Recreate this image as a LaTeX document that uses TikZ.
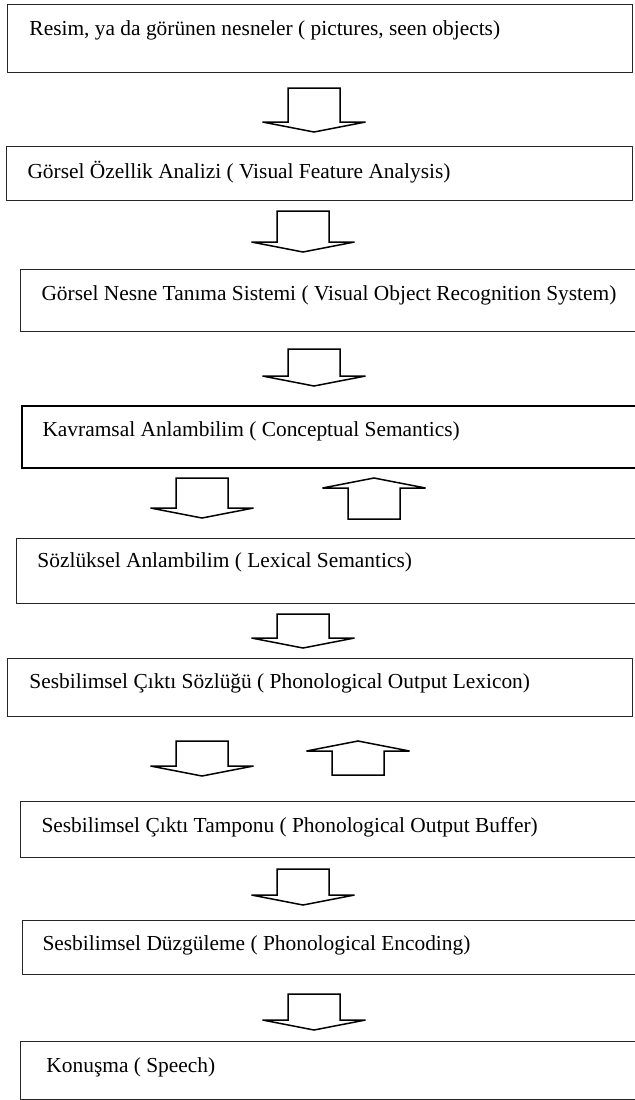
\documentclass[tikz,border=0pt]{standalone}
\usepackage{fontspec}
\setmainfont{Liberation Serif}
\usetikzlibrary{fit}

\begin{document}
\begin{tikzpicture}[x=0.5pt,y=-0.5pt,line width=0.5pt]
    \tikzstyle{box}=[draw=black!85,inner sep=0pt]
    \tikzstyle{thick box}=[box,draw=black,line width=1pt]
    \tikzstyle{boxtext}=[anchor=base west,inner sep=0pt,font=\fontsize{10.7}{12.8}\selectfont]
    \tikzstyle{block arrow}=[draw=black,line width=0.75pt,line join=miter]

    \useasboundingbox (0,0) rectangle (635,1100);

    % Draw the boxes
    \foreach \name/\l/\t/\r/\b in {1/7/4/632/72, 2/6/146/632/200, 3/20/269/640/331,
                                   5/16/538/640/603, 6/7/658/632/716, 7/20/801/640/857,
                                   8/22/920/640/974, 9/20/1041/640/1099}
        \node[box, fit={(\l,\t) (\r,\b)}] (B-\name) {};
    \node[thick box, fit={(22,406) (640,468)}] (B-4) {};

    % Write the text of each box
    \foreach \name/\x/\y/\txt in {
        1/29/35/{Resim, ya da görünen nesneler ( pictures, seen objects)},
        2/27/178/{Görsel Özellik Analizi ( Visual Feature Analysis)},
        3/41/300/{Görsel Nesne Tanıma Sistemi ( Visual Object Recognition System)},
        4/42/436/{Kavramsal Anlambilim ( Conceptual Semantics)},
        5/37/567/{Sözlüksel Anlambilim ( Lexical Semantics)},
        6/29/688/{Sesbilimsel Çıktı Sözlüğü ( Phonological Output Lexicon)},
        7/41/832/{Sesbilimsel Çıktı Tamponu ( Phonological Output Buffer)},
        8/42/950/{Sesbilimsel Düzgüleme ( Phonological Encoding)},
        9/46/1072/{Konuşma ( Speech)}}
        \node[boxtext] (T-\name) at (\x,\y) {\txt};

    % Draw the block arrows: centre, tail end and tip
    \foreach \x/\from/\to in {314/88/132, 303/211/252, 314/349/386,
                              202/478/518, 374/519/478, 303/614/648,
                              202/741/776, 358/775/741, 303/869/905, 314/994/1030}
    {
        \pgfmathsetmacro{\h}{\to-10*sign(\to-\from)}
        \draw[block arrow] (\x-26,\from) -- (\x+26,\from) -- (\x+26,\h)
            -- (\x+51.5,\h) -- (\x,\to) -- (\x-51.5,\h) -- (\x-26,\h) -- cycle;
    }
\end{tikzpicture}
\end{document}
